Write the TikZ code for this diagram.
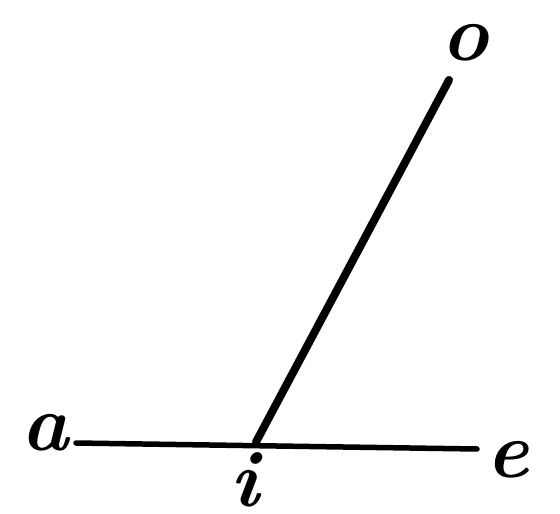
\documentclass[tikz,border=0pt]{standalone}
\usepackage{fontspec}
\tikzset{
  lbl/.style={inner sep=0pt, font=\fontsize{80}{80}\selectfont\bfseries\itshape},
  stroke/.style={line width=5.5pt, line cap=round},
  thick stroke/.style={line width=8pt, line cap=round}
}
\begin{document}
\begin{tikzpicture}[x=1pt,y=-1pt]
\useasboundingbox (0,0) rectangle (560,514);
\coordinate (A) at (76,443);
\coordinate (E) at (477,449);
\coordinate (I) at (256,442);
\coordinate (O) at (449,80);
\draw[stroke] (A) -- (E);
\draw[thick stroke] (I) -- (O);
\node[lbl] (la) at (45,433) {a};
\node[lbl] (le) at (508,460) {e};
\node[lbl] (li) at (245,480) {i};
\node[lbl] (lo) at (465,43) {o};
\end{tikzpicture}
\end{document}
